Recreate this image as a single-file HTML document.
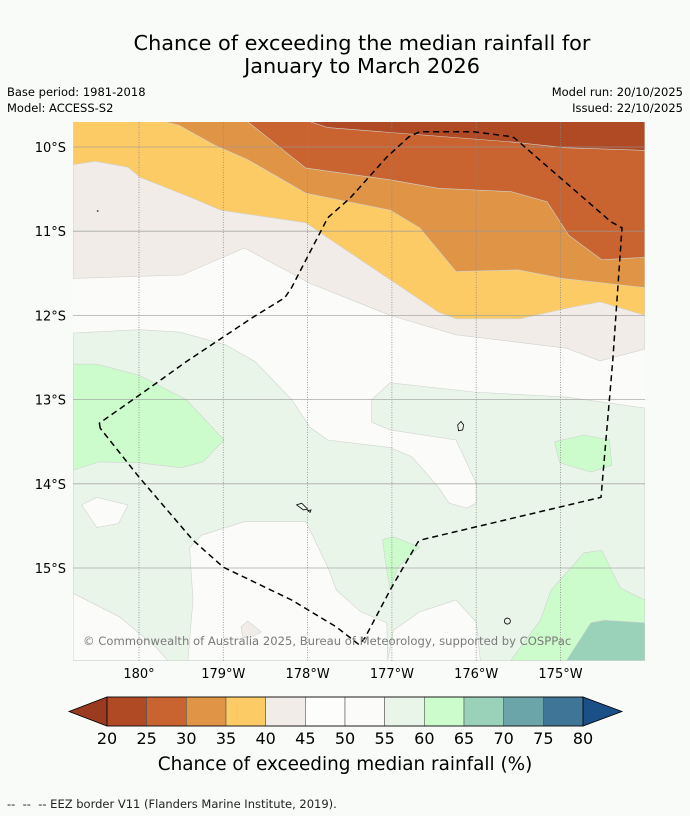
<!DOCTYPE html>
<html><head><meta charset="utf-8"><style>
body{margin:0;background:#f9fbf8;font-family:"DejaVu Sans","Liberation Sans",sans-serif;}
svg{display:block}
</style></head><body>
<svg id="root" width="690" height="816" viewBox="0 0 690 816" xmlns="http://www.w3.org/2000/svg" font-family="DejaVu Sans, Liberation Sans, sans-serif">
<rect width="690" height="816" fill="#f9fbf8"/>
<text x="362" y="50" font-size="20.8" text-anchor="middle" fill="#000">Chance of exceeding the median rainfall for</text>
<text x="362" y="73" font-size="20.8" text-anchor="middle" fill="#000">January to March 2026</text>
<text x="7" y="96" font-size="11.5">Base period: 1981-2018</text>
<text x="7" y="112" font-size="11.5">Model: ACCESS-S2</text>
<text x="683" y="96" font-size="11.5" text-anchor="end">Model run: 20/10/2025</text>
<text x="683" y="112" font-size="11.5" text-anchor="end">Issued: 22/10/2025</text>
<defs><clipPath id="mapclip"><rect x="73" y="122" width="572" height="539"/></clipPath></defs>
<g id="map" clip-path="url(#mapclip)">
<rect x="73" y="122" width="572" height="539" fill="#fbfcfa"/>
</g>
<g id="axes"></g>
<g id="cbar"></g>
<text x="345" y="770" font-size="18.4" text-anchor="middle">Chance of exceeding median rainfall (%)</text>
<text x="7" y="808" font-size="11.5" fill="#222" xml:space="preserve">--  --  -- EEZ border V11 (Flanders Marine Institute, 2019).</text>
</svg>
<script>
// Map extent (lon in degrees east 0-360, lat in degrees south)
const lonTicks=[180,181,182,183,184,185];
const lonLabels=["180°","179°W","178°W","177°W","176°W","175°W"];
const latTicks=[10,11,12,13,14,15];
const latLabels=["10°S","11°S","12°S","13°S","14°S","15°S"];
const cbLevels=[20,25,30,35,40,45,50,55,60,65,70,75,80];
const cbColors=["#b04a25","#c96330","#e09446","#fdcb65","#f1ece7","#fdfdfb","#fbfcfa","#eaf5ea","#ccfccc","#99d1b9","#6ba5a9","#3f7698"];
const cbUnder="#9a3a1f", cbOver="#1a4f88";
// contour band polygons [lon, latS]
const band40=[[179.22,9.70],[186,9.70],[186,12.40],[185.47,12.54],[185.07,12.39],[183.76,12.23],[182.98,12.00],[182.03,11.62],[181.25,11.20],[180.51,11.52],[179.22,11.56]];
const band35=[[179.22,9.70],[186,9.70],[186,12.00],[185.47,11.84],[185.10,11.91],[184.52,12.04],[183.76,12.04],[183.55,11.96],[182.24,11.08],[181.98,10.90],[180.97,10.75],[180.64,10.61],[180.01,10.36],[179.87,10.24],[179.48,10.17],[179.22,10.21]];
const band30=[[180.30,9.70],[180.47,9.74],[180.90,9.98],[181.29,10.15],[181.98,10.55],[182.98,10.75],[183.33,10.96],[183.76,11.48],[184.50,11.46],[185.02,11.56],[186,11.67],[186,9.70]];
const band25=[[181.29,9.70],[181.64,9.98],[181.98,10.25],[182.98,10.39],[183.55,10.49],[184.41,10.53],[184.84,10.65],[185.10,11.05],[185.49,11.34],[186,11.31],[186,9.70]];
const band20=[[182.03,9.70],[182.24,9.77],[184.41,9.94],[185.07,10.01],[186,10.04],[186,9.70]];
const band55=[[179.22,12.21],[180.01,12.17],[180.49,12.20],[181.03,12.35],[181.38,12.55],[181.81,13.00],[182.03,13.33],[182.24,13.48],[182.98,13.57],[183.24,13.68],[183.55,14.04],[183.68,14.23],[183.89,14.29],[184.00,14.23],[184.00,13.99],[183.76,13.48],[182.98,13.36],[182.76,13.27],[182.76,13.00],[182.98,12.80],[183.97,12.91],[185.07,12.97],[186,13.10],[186,16.10],[179.22,16.10]];
const white1=[[179.32,14.25],[179.50,14.16],[179.87,14.25],[179.76,14.47],[179.50,14.52]];
const white2=[[180.60,14.76],[180.74,14.61],[181.25,14.45],[181.98,14.45],[182.24,14.99],[182.34,15.26],[182.63,15.52],[182.94,15.65],[182.95,16.10],[180.58,16.10],[180.60,15.86],[180.64,15.38]];
const white3=[[179.22,15.30],[179.77,15.58],[180.21,15.95],[180.34,16.10],[179.22,16.10]];
const white4=[[183.02,15.74],[183.33,15.52],[183.76,15.38],[184.00,15.64],[184.05,16.10],[182.95,16.10]];
const green60a=[[179.22,12.58],[179.50,12.58],[180.00,12.71],[180.56,13.00],[181.01,13.48],[180.76,13.74],[180.50,13.81],[180.00,13.75],[179.53,13.74],[179.22,13.84]];
const green60b=[[184.93,13.50],[185.28,13.42],[185.58,13.48],[185.61,13.78],[185.36,13.86],[184.99,13.75]];
const green60c=[[182.89,14.66],[183.02,14.63],[183.33,14.75],[183.07,14.99],[182.98,15.26],[182.92,14.91]];
const green60d=[[184.41,16.10],[184.76,15.62],[184.89,15.26],[185.28,14.82],[185.49,14.79],[185.71,15.24],[186,15.38],[186,16.10]];
const teal65=[[185.07,16.10],[185.36,15.65],[185.52,15.62],[186,15.65],[186,16.10]];
const grey40b=[[181.21,15.70],[181.29,15.63],[181.45,15.76],[181.34,15.82],[181.23,15.83]];
const eez=[[179.54,13.34],[179.53,13.28],[180.17,12.83],[180.56,12.55],[181.34,12.03],[181.73,11.79],[181.81,11.67],[182.24,10.84],[182.50,10.61],[182.94,10.12],[183.20,9.88],[183.33,9.82],[183.97,9.82],[184.37,9.87],[184.45,9.89],[185.60,10.89],[185.73,10.96],[185.62,12.53],[185.48,14.16],[183.37,14.66],[183.31,14.69],[182.98,15.26],[182.68,15.83],[182.61,15.91],[182.34,15.70],[181.81,15.38],[181.25,15.11],[181.00,14.99],[180.64,14.67],[180.00,13.92],[179.54,13.34]];
const islands=[[[183.78,13.30],[183.82,13.26],[183.85,13.30],[183.84,13.36],[183.79,13.37]],[[181.87,14.25],[181.93,14.23],[182.00,14.30],[181.95,14.31]],[[182.00,14.32],[182.04,14.31],[182.03,14.34]]];

const X=lon=>139+(lon-180)*84.3;
const Y=lat=>147+(lat-10)*84.2;
const NS="http://www.w3.org/2000/svg";
const mk=(t,a,p)=>{const e=document.createElementNS(NS,t);for(const k in a)e.setAttribute(k,a[k]);p.appendChild(e);return e;};
const pts=arr=>arr.map(p=>X(p[0]).toFixed(1)+","+Y(p[1]).toFixed(1)).join(" ");
const map=document.getElementById("map");
function band(arr,col,name){
  const e=mk("polygon",{points:pts(arr),fill:col,stroke:"#cfd3cf","stroke-width":"0.6"},map);
  
  
}
band(band40,cbColors[4],"band-40-45");
band(band35,cbColors[3],"band-35-40");
band(band30,cbColors[2],"band-30-35");
band(band25,cbColors[1],"band-25-30");
band(band20,cbColors[0],"band-20-25");
band(band55,cbColors[7],"band-55-60");
band(white1,cbColors[6],"band-50-55-patch");
band(white2,cbColors[6],"band-50-55-patch");
band(white3,cbColors[6],"band-50-55-patch");
band(white4,cbColors[6],"band-50-55-patch");
band(green60a,cbColors[8],"band-60-65-patch");
band(green60b,cbColors[8],"band-60-65-patch");
band(green60c,cbColors[8],"band-60-65-patch");
band(green60d,cbColors[8],"band-60-65-patch");
band(teal65,cbColors[9],"band-65-70-patch");
band(grey40b,cbColors[4],"band-40-45-patch");
islands.forEach(isl=>{
  const e=mk("polygon",{points:pts(isl),fill:"none",stroke:"#000","stroke-width":"0.8"},map);
  
  
});
const c=mk("circle",{cx:X(184.37),cy:Y(15.63),r:3,fill:"none",stroke:"#000","stroke-width":"0.8"},map);


const dot=mk("circle",{cx:X(179.51),cy:Y(10.76),r:0.9,fill:"#333"},map);


// gridlines
latTicks.forEach(l=>{const e=mk("line",{x1:73,x2:645,y1:Y(l),y2:Y(l),stroke:"#999","stroke-width":"0.8","stroke-opacity":"0.8"},map);

});
lonTicks.forEach(l=>{const e=mk("line",{x1:X(l),x2:X(l),y1:122,y2:661,stroke:"#888","stroke-width":"0.8","stroke-dasharray":"1,1.5"},map);

});
const ez=mk("polyline",{points:pts(eez),fill:"none",stroke:"#000","stroke-width":"1.5","stroke-dasharray":"6,4"},map);


const cp=mk("text",{x:83,y:645,"font-size":"11.6",fill:"#7a7a7a"},map);
cp.textContent="© Commonwealth of Australia 2025, Bureau of Meteorology, supported by COSPPac";


// axis labels
const ax=document.getElementById("axes");
latTicks.forEach((l,i)=>{const t=mk("text",{x:66,y:Y(l)+5,"font-size":"13","text-anchor":"end"},ax);t.textContent=latLabels[i];

});
lonTicks.forEach((l,i)=>{const t=mk("text",{x:X(l),y:678,"font-size":"13","text-anchor":"middle"},ax);t.textContent=lonLabels[i];

});
// colorbar
const cb=document.getElementById("cbar");
const cx0=107,cx1=583,cy0=697,cy1=726;
const CX=v=>cx0+(v-cbLevels[0])/(cbLevels[cbLevels.length-1]-cbLevels[0])*(cx1-cx0);
const u=mk("polygon",{points:`${cx0},${cy0} ${cx0},${cy1} 69,${(cy0+cy1)/2}`,fill:cbUnder,stroke:"#000","stroke-width":"0.8"},cb);


const o=mk("polygon",{points:`${cx1},${cy0} ${cx1},${cy1} 622,${(cy0+cy1)/2}`,fill:cbOver,stroke:"#000","stroke-width":"0.8"},cb);


cbColors.forEach((col,i)=>{
  const r=mk("rect",{x:CX(cbLevels[i]),y:cy0,width:CX(cbLevels[i+1])-CX(cbLevels[i]),height:cy1-cy0,fill:col,stroke:"#555","stroke-width":"0.6"},cb);
  
  
});
const fr=mk("rect",{x:cx0,y:cy0,width:cx1-cx0,height:cy1-cy0,fill:"none",stroke:"#000","stroke-width":"0.8"},cb);


cbLevels.forEach(v=>{const t=mk("text",{x:CX(v),y:744,"font-size":"16","text-anchor":"middle"},cb);t.textContent=v;

});
</script>
</body></html>
